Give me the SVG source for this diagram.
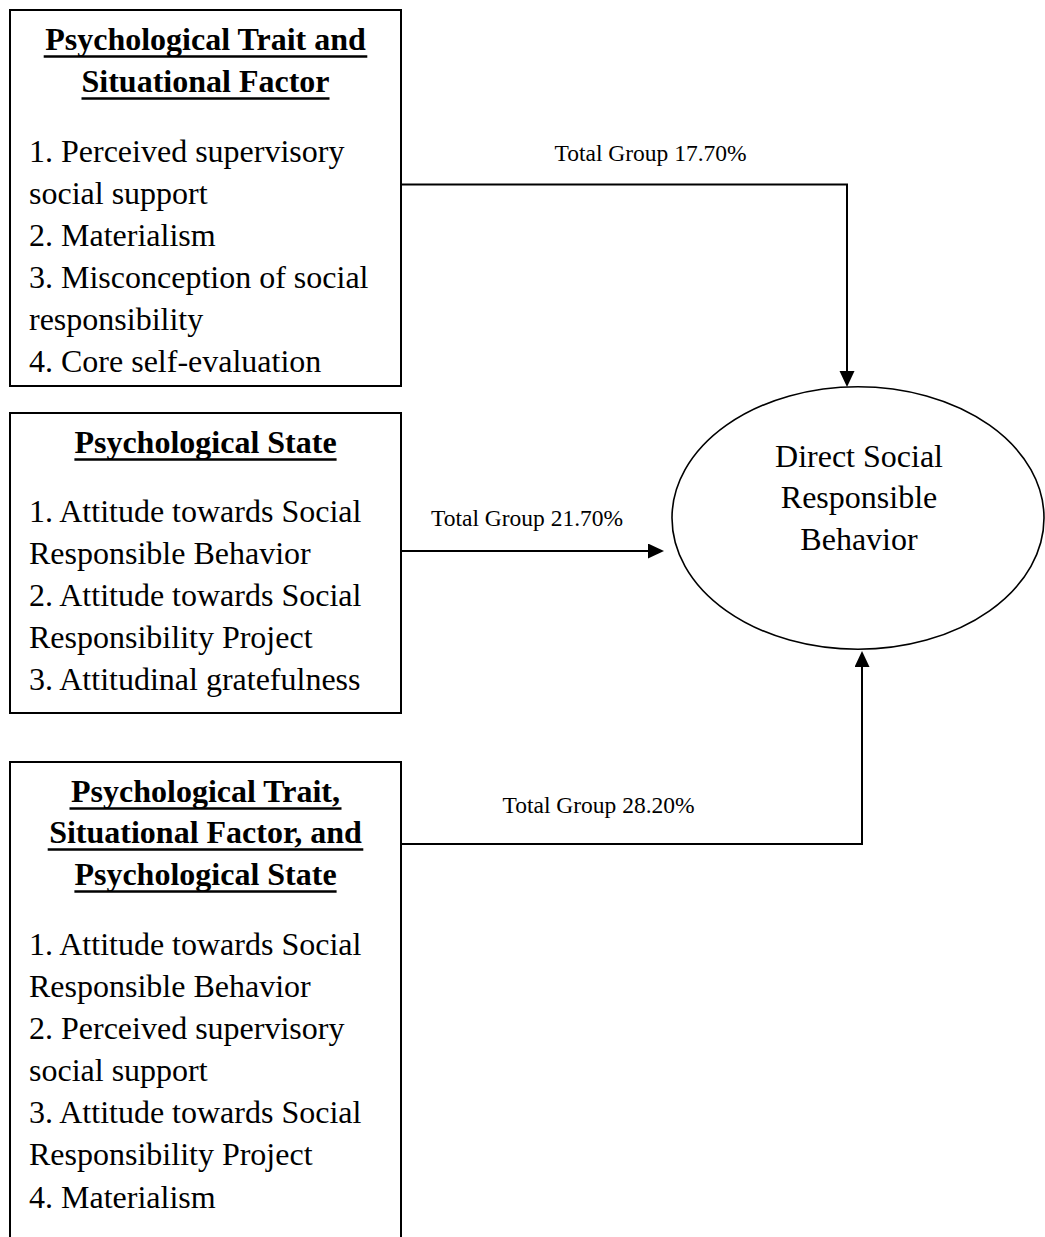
<svg xmlns="http://www.w3.org/2000/svg" width="1045" height="1237" viewBox="0 0 1045 1237">
  <style>
    .box { fill: #fff; stroke: #000; stroke-width: 2; }
    .oval { fill: #fff; stroke: #000; stroke-width: 1.6; }
    .head { font-family: "Liberation Serif", "Times New Roman", serif; font-size: 32px; font-weight: bold; fill: #000; text-anchor: middle; }
    .body { font-family: "Liberation Serif", "Times New Roman", serif; font-size: 32px; fill: #000; }
    .center { text-anchor: middle; }
    .lbl { font-family: "Liberation Serif", "Times New Roman", serif; font-size: 23.5px; fill: #000; }
    .ul { stroke: #000; stroke-width: 2.6; }
    .wire { fill: none; stroke: #000; stroke-width: 2; }
  </style>
  <defs>
    <marker id="arrow" markerUnits="userSpaceOnUse" markerWidth="16" markerHeight="16" refX="14" refY="7.5" orient="auto">
      <path d="M0,0 L16,7.5 L0,15 Z" fill="#000"/>
    </marker>
  </defs>
  <rect width="1045" height="1237" fill="#fff"/>

  <!-- Trait and situational factor block -->
  <g id="node-trait-situational">
    <rect class="box" x="10" y="10" width="391" height="376"/>
    <text class="head" x="205.5" y="50">Psychological Trait and</text>
    <line class="ul" x1="43.7" y1="56.5" x2="367.3" y2="56.5"/>
    <text class="head" x="205.5" y="92">Situational Factor</text>
    <line class="ul" x1="81.5" y1="98.5" x2="329.5" y2="98.5"/>
    <text class="body" x="29" y="162">1. Perceived supervisory</text>
    <text class="body" x="29" y="204">social support</text>
    <text class="body" x="29" y="246">2. Materialism</text>
    <text class="body" x="29" y="288">3. Misconception of social</text>
    <text class="body" x="29" y="330">responsibility</text>
    <text class="body" x="29" y="372">4. Core self-evaluation</text>
  </g>

  <!-- Psychological state block -->
  <g id="node-state">
    <rect class="box" x="10" y="413" width="391" height="300"/>
    <text class="head" x="205.5" y="453">Psychological State</text>
    <line class="ul" x1="74.4" y1="459.5" x2="336.6" y2="459.5"/>
    <text class="body" x="29" y="522">1. Attitude towards Social</text>
    <text class="body" x="29" y="564">Responsible Behavior</text>
    <text class="body" x="29" y="606">2. Attitude towards Social</text>
    <text class="body" x="29" y="648">Responsibility Project</text>
    <text class="body" x="29" y="690">3. Attitudinal gratefulness</text>
  </g>

  <!-- Combined block (runs past the lower edge) -->
  <g id="node-combined">
    <rect class="box" x="10" y="762" width="391" height="500"/>
    <text class="head" x="205.5" y="802">Psychological Trait,</text>
    <line class="ul" x1="69.5" y1="808.5" x2="341.5" y2="808.5"/>
    <text class="head" x="205.5" y="843">Situational Factor, and</text>
    <line class="ul" x1="47.7" y1="849.5" x2="363.3" y2="849.5"/>
    <text class="head" x="205.5" y="885">Psychological State</text>
    <line class="ul" x1="74.4" y1="891.5" x2="336.6" y2="891.5"/>
    <text class="body" x="29" y="955">1. Attitude towards Social</text>
    <text class="body" x="29" y="997">Responsible Behavior</text>
    <text class="body" x="29" y="1039">2. Perceived supervisory</text>
    <text class="body" x="29" y="1081">social support</text>
    <text class="body" x="29" y="1123">3. Attitude towards Social</text>
    <text class="body" x="29" y="1165">Responsibility Project</text>
    <text class="body" x="29" y="1208">4. Materialism</text>
  </g>

  <!-- Outcome -->
  <g id="node-outcome">
    <ellipse class="oval" cx="858" cy="518" rx="186" ry="131.3"/>
    <text class="body center" x="859" y="467">Direct Social</text>
    <text class="body center" x="859" y="508">Responsible</text>
    <text class="body center" x="859" y="550">Behavior</text>
  </g>

  <!-- Connectors -->
  <g id="connectors">
    <path class="wire" d="M401,184.5 H847 V385" marker-end="url(#arrow)"/>
    <path class="wire" d="M401,551 H662" marker-end="url(#arrow)"/>
    <path class="wire" d="M401,844 H862 V653" marker-end="url(#arrow)"/>
    <text class="lbl" x="554.5" y="161">Total Group 17.70%</text>
    <text class="lbl" x="431" y="526">Total Group 21.70%</text>
    <text class="lbl" x="502.5" y="813">Total Group 28.20%</text>
  </g>
</svg>
